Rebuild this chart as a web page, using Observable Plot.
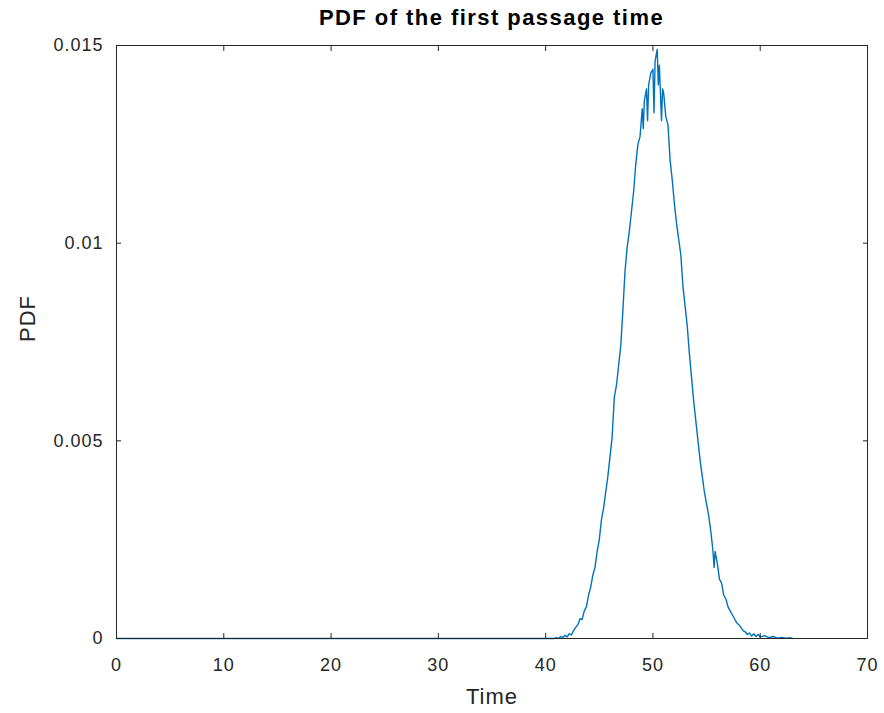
<!DOCTYPE html>
<html>
<head>
<meta charset="utf-8">
<script src="https://cdn.jsdelivr.net/npm/d3@7"></script>
<script src="https://cdn.jsdelivr.net/npm/@observablehq/plot@0.6"></script>
<style>
  html, body { margin: 0; padding: 0; background: #fff; }
  #title {
    width: 884px; height: 35px; box-sizing: border-box;
    padding: 5px 17px 0 116px; line-height: 30px;
    font: bold 22px "Liberation Sans", Arial, sans-serif;
    letter-spacing: 1.45px; text-align: center; color: #000;
  }
</style>
</head>
<body>
<div id="title">PDF of the first passage time</div>
<div id="chart"></div>
<script>
// Time values (x) and PDF values (y)
const time = [0, 40.6, 40.8, 41.0, 41.2, 41.4, 41.6, 41.8, 42.0, 42.2, 42.4, 42.6, 42.8, 43.0, 43.2, 43.4, 43.6, 43.8,
  44.0, 44.2, 44.4, 44.6, 44.8, 45.0, 45.2, 45.4, 45.6, 45.8, 46.0, 46.2, 46.4, 46.6, 46.8, 47.0, 47.2, 47.4, 47.6, 47.8,
  48.0, 48.2, 48.4, 48.6, 48.8, 49.0, 49.1, 49.2, 49.4, 49.5, 49.6, 49.8, 50.0, 50.1, 50.2, 50.4, 50.5, 50.6, 50.8, 50.9,
  51.0, 51.2, 51.4, 51.6, 51.8, 52.0, 52.2, 52.4, 52.6, 52.8, 53.0, 53.2, 53.4, 53.6, 53.8, 54.0, 54.2, 54.4, 54.6, 54.8,
  55.0, 55.2, 55.4, 55.6, 55.7, 55.8, 56.0, 56.2, 56.4, 56.6, 56.8, 57.0, 57.2, 57.4, 57.6, 57.8, 58.0, 58.2, 58.4, 58.6,
  58.8, 59.0, 59.2, 59.4, 59.6, 59.8, 60.0, 60.4, 60.8, 61.2, 61.6, 62.0, 62.4, 62.8, 63.0];
const pdf = [0, 0, 0, 0.00002, 0, 0.00005, 0.00002, 0.00008, 0.00004, 0.00012, 0.00009, 0.0002, 0.00028, 0.00035, 0.0005, 0.00048, 0.0007, 0.0008,
  0.0011, 0.0013, 0.0016, 0.0018, 0.0022, 0.0025, 0.003, 0.0033, 0.0037, 0.0041, 0.0046, 0.0051, 0.0061, 0.0064, 0.0069, 0.0074, 0.0083, 0.0093, 0.0099, 0.0103,
  0.0108, 0.0113, 0.0120, 0.0125, 0.0127, 0.0134, 0.0129, 0.0136, 0.0139, 0.0131, 0.0140, 0.0143, 0.0144, 0.0133, 0.0146, 0.0149, 0.0140, 0.0145, 0.0131, 0.0139,
  0.0138, 0.0132, 0.0130, 0.0121, 0.0116, 0.0110, 0.0105, 0.0101, 0.0097, 0.0089, 0.0084, 0.0079, 0.0072, 0.0066, 0.0060, 0.0055, 0.0050, 0.0045, 0.0041, 0.0037,
  0.0034, 0.0031, 0.0027, 0.0022, 0.0018, 0.0022, 0.0019, 0.0015, 0.0014, 0.0011, 0.0010, 0.0008, 0.0007, 0.0006, 0.0005, 0.0004, 0.00035, 0.00028, 0.0002, 0.00017,
  0.0001, 0.00014, 0.00006, 0.00012, 0.00005, 0.0001, 0.00004, 0.00007, 0.00002, 0.00005, 0.00001, 0.00003, 0.00001, 0.00002, 0];

const xTicks = [0, 10, 20, 30, 40, 50, 60, 70];
const yTicks = [0, 0.005, 0.01, 0.015];
const yTickLabels = ["0", "0.005", "0.01", "0.015"];
const xLabel = "Time";
const yLabel = "PDF";

const data = time.map((t, i) => ({t, v: pdf[i]}));
const ink = "#262626";

const chart = Plot.plot({
  width: 884,
  height: 678,
  marginLeft: 116,
  marginRight: 17,
  marginTop: 10,
  marginBottom: 75,
  style: {fontFamily: "'Liberation Sans', Arial, sans-serif", fontSize: "18px", color: ink, letterSpacing: "1px", background: "#fff", overflow: "visible"},
  x: {domain: [0, 70]},
  y: {domain: [0, 0.015]},
  marks: [
    Plot.line(data, {x: "t", y: "v", stroke: "#0072BD", strokeWidth: 1.4}),
    Plot.frame({stroke: ink, strokeWidth: 1}),
    Plot.axisX({ticks: xTicks, tickSize: -5, tickPadding: 25, tickFormat: d => String(d), label: null, stroke: ink, fill: ink}),
    Plot.axisX({anchor: "top", ticks: xTicks, tickSize: -5, tickFormat: () => "", label: null, stroke: ink}),
    Plot.axisY({ticks: yTicks, tickSize: -5, tickPadding: 18, tickFormat: d => yTickLabels[yTicks.indexOf(d)], label: null, stroke: ink, fill: ink}),
    Plot.axisY({anchor: "right", ticks: yTicks, tickSize: -5, tickFormat: () => "", label: null, stroke: ink}),
    Plot.text([xLabel], {text: d => d, frameAnchor: "bottom", dy: 50, fontSize: 22, fill: ink, lineAnchor: "top"}),
    Plot.text([yLabel], {text: d => d, frameAnchor: "left", dx: -89, rotate: -90, fontSize: 22, fill: ink})
  ]
});
document.getElementById("chart").appendChild(chart);
</script>
</body>
</html>
